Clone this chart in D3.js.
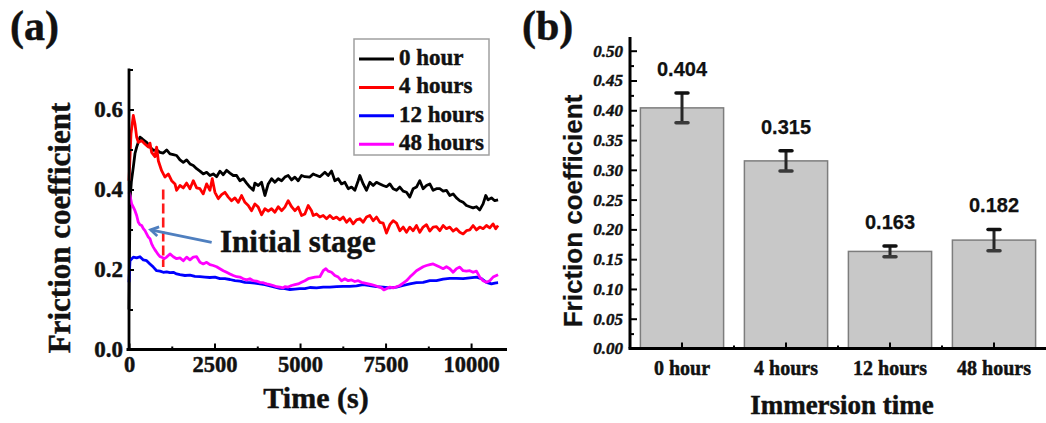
<!DOCTYPE html>
<html>
<head>
<meta charset="utf-8">
<script src="https://cdn.jsdelivr.net/npm/d3@7"></script>
<style>
  html, body { margin: 0; padding: 0; background: #fff; }
  svg { display: block; }
  .serif { font-family: "Liberation Serif", "Times New Roman", serif; font-weight: bold; fill: #111; stroke: #111; stroke-width: 0.45px; }
  .sans { font-family: "Liberation Sans", Arial, sans-serif; font-weight: bold; fill: #111; stroke: #111; stroke-width: 0.25px; }
</style>
</head>
<body>
<svg id="fig" width="1046" height="423"></svg>
<script>
// ---------- (a) friction coefficient vs time, [time (s), coefficient] ----------
const hour0 = [
  [0,0.10],[15,0.25],[35,0.38],[70,0.42],[126,0.456],[175,0.49],[224,0.506],[321,0.531],[370,0.528],
  [419,0.524],[516,0.518],[613,0.506],[711,0.498],[808,0.499],[906,0.493],[1003,0.491],[1100,0.499],
  [1198,0.489],[1295,0.487],[1392,0.485],[1490,0.474],[1587,0.468],[1685,0.474],[1782,0.464],
  [1879,0.460],[1977,0.452],[2074,0.446],[2171,0.439],[2269,0.443],[2366,0.435],[2463,0.439],
  [2561,0.432],[2658,0.446],[2756,0.437],[2853,0.448],[2950,0.441],[3048,0.435],[3145,0.435],
  [3242,0.422],[3340,0.427],[3437,0.416],[3534,0.406],[3632,0.398],[3680,0.416],[3778,0.410],
  [3875,0.418],[3973,0.385],[4070,0.414],[4168,0.427],[4265,0.418],[4362,0.427],[4460,0.422],
  [4557,0.431],[4654,0.435],[4752,0.424],[4849,0.431],[4946,0.422],[5044,0.435],[5141,0.432],
  [5287,0.431],[5384,0.439],[5434,0.437],[5580,0.432],[5726,0.443],[5823,0.435],[5921,0.446],
  [6018,0.422],[6116,0.427],[6213,0.414],[6310,0.418],[6408,0.402],[6505,0.406],[6602,0.398],
  [6700,0.422],[6749,0.435],[6846,0.414],[6943,0.398],[7041,0.418],[7138,0.410],[7235,0.418],
  [7333,0.414],[7430,0.410],[7527,0.407],[7625,0.414],[7722,0.402],[7820,0.398],[7917,0.406],
  [8014,0.396],[8112,0.393],[8209,0.381],[8306,0.402],[8404,0.406],[8501,0.422],[8598,0.402],
  [8696,0.410],[8793,0.414],[8891,0.398],[8988,0.402],[9085,0.402],[9183,0.396],[9280,0.398],
  [9377,0.385],[9475,0.389],[9572,0.379],[9670,0.372],[9767,0.368],[9864,0.360],[9962,0.357],
  [10059,0.354],[10157,0.357],[10254,0.349],[10351,0.364],[10429,0.385],[10497,0.374],
  [10595,0.379],[10692,0.372],[10789,0.374]
];
const hour4 = [
  [0,0.422],[58,0.539],[126,0.585],[175,0.564],[224,0.531],[273,0.518],[370,0.522],[467,0.514],
  [565,0.506],[613,0.516],[662,0.493],[759,0.482],[808,0.506],[857,0.472],[954,0.447],[1052,0.431],
  [1149,0.439],[1246,0.422],[1344,0.414],[1392,0.398],[1490,0.410],[1587,0.404],[1685,0.416],
  [1782,0.402],[1879,0.422],[1977,0.404],[2074,0.402],[2171,0.389],[2269,0.414],[2366,0.398],
  [2434,0.427],[2512,0.393],[2610,0.377],[2707,0.387],[2804,0.393],[2902,0.381],[2999,0.372],
  [3096,0.379],[3194,0.368],[3291,0.385],[3389,0.368],[3486,0.360],[3583,0.347],[3681,0.364],
  [3778,0.356],[3875,0.337],[3973,0.352],[4070,0.346],[4168,0.352],[4265,0.343],[4362,0.357],
  [4460,0.347],[4557,0.356],[4654,0.372],[4752,0.357],[4849,0.347],[4946,0.356],[5044,0.335],
  [5141,0.339],[5239,0.360],[5336,0.347],[5385,0.335],[5483,0.339],[5580,0.331],[5677,0.335],
  [5775,0.327],[5872,0.335],[5970,0.327],[6067,0.331],[6164,0.324],[6262,0.331],[6359,0.318],
  [6456,0.327],[6554,0.314],[6651,0.324],[6749,0.327],[6846,0.318],[6943,0.331],[7041,0.335],
  [7138,0.322],[7235,0.331],[7333,0.318],[7430,0.316],[7527,0.291],[7625,0.312],[7722,0.322],
  [7820,0.316],[7917,0.297],[8014,0.306],[8112,0.293],[8209,0.306],[8306,0.297],[8404,0.310],
  [8501,0.293],[8598,0.306],[8696,0.312],[8793,0.296],[8891,0.306],[8988,0.307],[9085,0.297],
  [9183,0.310],[9280,0.302],[9377,0.306],[9475,0.296],[9572,0.302],[9670,0.293],[9767,0.289],
  [9864,0.297],[9962,0.299],[10059,0.310],[10157,0.299],[10254,0.306],[10351,0.302],[10449,0.310],
  [10546,0.304],[10643,0.314],[10721,0.302],[10789,0.310]
];
const hour12 = [
  [0,0.168],[29,0.222],[126,0.231],[224,0.229],[321,0.232],[419,0.224],[516,0.222],[613,0.214],
  [711,0.206],[808,0.197],[906,0.196],[1003,0.193],[1100,0.194],[1198,0.192],[1295,0.193],
  [1392,0.189],[1490,0.187],[1636,0.185],[1782,0.186],[1928,0.183],[2074,0.182],[2220,0.181],
  [2366,0.180],[2512,0.181],[2658,0.177],[2804,0.177],[2950,0.175],[3096,0.172],[3242,0.171],
  [3389,0.168],[3534,0.167],[3680,0.166],[3827,0.164],[3973,0.162],[4119,0.159],[4265,0.156],
  [4411,0.153],[4557,0.152],[4703,0.150],[4849,0.151],[4995,0.152],[5141,0.152],[5288,0.155],
  [5483,0.154],[5677,0.156],[5872,0.156],[6067,0.157],[6262,0.158],[6456,0.158],[6651,0.159],
  [6846,0.162],[7041,0.160],[7235,0.157],[7430,0.156],[7625,0.154],[7820,0.156],[8014,0.160],
  [8209,0.164],[8404,0.167],[8598,0.168],[8793,0.172],[8988,0.172],[9183,0.176],[9377,0.178],
  [9572,0.178],[9767,0.177],[9962,0.179],[10157,0.181],[10303,0.177],[10449,0.168],[10595,0.164],
  [10692,0.166],[10789,0.167]
];
const hour48 = [
  [0,0.393],[29,0.385],[78,0.364],[126,0.356],[175,0.347],[224,0.335],[273,0.318],[321,0.312],
  [370,0.310],[419,0.302],[467,0.297],[516,0.289],[565,0.281],[613,0.277],[662,0.264],[711,0.256],
  [759,0.249],[808,0.243],[857,0.237],[906,0.232],[954,0.231],[1032,0.227],[1100,0.231],[1198,0.239],
  [1295,0.232],[1392,0.227],[1490,0.229],[1587,0.222],[1685,0.231],[1782,0.224],[1879,0.231],
  [1977,0.232],[2074,0.218],[2171,0.214],[2269,0.218],[2366,0.212],[2463,0.210],[2561,0.207],
  [2658,0.202],[2756,0.197],[2853,0.193],[2950,0.189],[3048,0.185],[3145,0.182],[3242,0.181],
  [3340,0.177],[3437,0.174],[3534,0.177],[3632,0.172],[3729,0.171],[3827,0.168],[3924,0.167],
  [4021,0.164],[4119,0.162],[4216,0.160],[4314,0.157],[4411,0.156],[4508,0.154],[4557,0.157],
  [4654,0.156],[4752,0.160],[4849,0.162],[4946,0.164],[5044,0.168],[5141,0.172],[5239,0.177],
  [5336,0.179],[5434,0.181],[5580,0.182],[5677,0.197],[5755,0.202],[5823,0.196],[5921,0.193],
  [6018,0.185],[6116,0.181],[6213,0.172],[6310,0.177],[6408,0.172],[6505,0.174],[6602,0.170],
  [6700,0.172],[6797,0.168],[6895,0.166],[6992,0.164],[7089,0.162],[7187,0.160],[7284,0.157],
  [7381,0.154],[7450,0.149],[7527,0.152],[7625,0.156],[7722,0.154],[7820,0.157],[7917,0.160],
  [8014,0.166],[8112,0.172],[8209,0.181],[8306,0.189],[8404,0.197],[8501,0.202],[8598,0.207],
  [8696,0.210],[8793,0.212],[8891,0.214],[8988,0.210],[9085,0.206],[9183,0.202],[9280,0.207],
  [9377,0.202],[9475,0.193],[9572,0.202],[9670,0.206],[9767,0.197],[9864,0.196],[9962,0.197],
  [10059,0.193],[10157,0.196],[10254,0.181],[10351,0.172],[10449,0.168],[10546,0.172],
  [10643,0.181],[10789,0.187]
];
const seriesNames = ["0 hour", "4 hours", "12 hours", "48 hours"];
const seriesColors = ["#000000", "#ff0000", "#0000ff", "#ff00ff"];
const timeTicks = [0, 2500, 5000, 7500, 10000];
const timeMinorTicks = [1250, 3750, 6250, 8750];
const coefTicks = [0, 0.2, 0.4, 0.6];
const coefMinorTicks = [0.1, 0.3, 0.5, 0.7];

// ---------- (b) mean friction coefficient per immersion time ----------
const immersionTimes = ["0 hour", "4 hours", "12 hours", "48 hours"];
const meanCoef = [0.404, 0.315, 0.163, 0.182];
const coefError = [0.025, 0.017, 0.009, 0.018];
const barTicks = d3.range(0, 0.501, 0.05);
const barMinorTicks = d3.range(0.025, 0.52, 0.05);

const svg = d3.select("#fig");
svg.append("rect").attr("width", 1046).attr("height", 423).attr("fill", "#fff");

// ================= panel (a) =================
const xA = d3.scaleLinear().domain([0, 11050]).range([129, 507]);
const yA = d3.scaleLinear().domain([0, 0.7]).range([349.5, 69.5]);
const gA = svg.append("g");

const line = d3.line().x(d => xA(d[0])).y(d => yA(d[1]));
[hour0, hour4, hour12, hour48].forEach((s, i) => {
  gA.append("path").datum(s).attr("d", line)
    .attr("fill", "none").attr("stroke", seriesColors[i])
    .attr("stroke-width", 2.8).attr("stroke-linejoin", "round");
});

// axes
function styleAxis(g, size) {
  g.select(".domain").remove();
  g.attr("font-family", null);
  g.selectAll(".tick line").attr("stroke", "#000").attr("stroke-width", 2);
  g.selectAll(".tick text").attr("class", "serif").style("font-size", size + "px").attr("fill", "#111");
}
gA.append("g").attr("transform", `translate(0,${yA(0)})`)
  .call(d3.axisBottom(xA).tickValues(timeTicks).tickFormat(d3.format("d"))
    .tickSizeInner(-6).tickSizeOuter(0).tickPadding(7))
  .call(g => styleAxis(g, 22.5));
gA.append("g").attr("transform", `translate(0,${yA(0)})`)
  .call(d3.axisBottom(xA).tickValues(timeMinorTicks).tickFormat("").tickSizeInner(-3).tickSizeOuter(0))
  .call(g => styleAxis(g, 22));
gA.append("g").attr("transform", `translate(${xA(0)},0)`)
  .call(d3.axisLeft(yA).tickValues(coefTicks).tickFormat(d3.format(".1f"))
    .tickSizeInner(-5).tickSizeOuter(0).tickPadding(6))
  .call(g => styleAxis(g, 23));
gA.append("g").attr("transform", `translate(${xA(0)},0)`)
  .call(d3.axisLeft(yA).tickValues(coefMinorTicks).tickFormat("").tickSizeInner(-4).tickSizeOuter(0))
  .call(g => styleAxis(g, 22));
gA.append("line").attr("x1", xA(0) - 2.5).attr("x2", xA.range()[1]).attr("y1", yA(0)).attr("y2", yA(0))
  .attr("stroke", "#000").attr("stroke-width", 2.8);
gA.append("line").attr("x1", xA(0)).attr("x2", xA(0)).attr("y1", yA(0)).attr("y2", yA.range()[1] - 1)
  .attr("stroke", "#000").attr("stroke-width", 2.8);

// initial-stage marker and arrow
gA.append("line").attr("x1", xA(1000)).attr("x2", xA(1000)).attr("y1", yA(0.40)).attr("y2", yA(0.206))
  .attr("stroke", "#ff1a1a").attr("stroke-width", 2.6).attr("stroke-dasharray", "10,4");
const arrFrom = [xA(2416), yA(0.268)], arrTo = [xA(634), yA(0.299)];
gA.append("line").attr("x1", arrFrom[0]).attr("y1", arrFrom[1]).attr("x2", arrTo[0]).attr("y2", arrTo[1])
  .attr("stroke", "#4f7fbf").attr("stroke-width", 2.8);
{
  const ang = Math.atan2(arrFrom[1] - arrTo[1], arrFrom[0] - arrTo[0]);
  const L = 9, spread = 0.55;
  const p1 = [arrTo[0] + L * Math.cos(ang + spread), arrTo[1] + L * Math.sin(ang + spread)];
  const p2 = [arrTo[0] + L * Math.cos(ang - spread), arrTo[1] + L * Math.sin(ang - spread)];
  gA.append("path").attr("d", `M${p1[0]},${p1[1]}L${arrTo[0]},${arrTo[1]}L${p2[0]},${p2[1]}`)
    .attr("fill", "none").attr("stroke", "#4f7fbf").attr("stroke-width", 2.8).attr("stroke-linejoin", "miter");
}
gA.append("text").attr("class", "serif").attr("x", xA(2660)).attr("y", yA(0.243))
  .style("font-size", "31px").text("Initial stage");

// legend
const leg = gA.append("g");
leg.append("rect").attr("x", 354).attr("y", 39).attr("width", 135).attr("height", 116)
  .attr("fill", "#fff").attr("stroke", "#a0a0a0").attr("stroke-width", 1.5);
seriesNames.forEach((n, i) => {
  const cy = 59 + i * 28.4;
  leg.append("line").attr("x1", 359).attr("x2", 394).attr("y1", cy).attr("y2", cy)
    .attr("stroke", seriesColors[i]).attr("stroke-width", 3);
  leg.append("text").attr("class", "serif").attr("x", 399).attr("y", cy + 6)
    .style("font-size", "23px").text(n);
});

// titles
svg.append("text").attr("class", "serif").attr("transform", "translate(70,228) rotate(-90)")
  .attr("text-anchor", "middle").style("font-size", "31px").text("Friction coefficient");
svg.append("text").attr("class", "serif").attr("x", 316).attr("y", 408)
  .attr("text-anchor", "middle").style("font-size", "30px").text("Time (s)");
svg.append("text").attr("class", "serif").attr("x", 10).attr("y", 40)
  .style("font-size", "42px").text("(a)");

// ================= panel (b) =================
const xB = d3.scaleBand().domain(immersionTimes).range([630, 1046]).paddingInner(0.2).paddingOuter(0.1);
const yB = d3.scaleLinear().domain([0, 0.523]).range([348.5, 37]);
const gB = svg.append("g");

gB.selectAll("rect.bar").data(immersionTimes).join("rect").attr("class", "bar")
  .attr("x", d => xB(d)).attr("width", xB.bandwidth())
  .attr("y", (d, i) => yB(meanCoef[i])).attr("height", (d, i) => yB(0) - yB(meanCoef[i]))
  .attr("fill", "#c8c8c8").attr("stroke", "#7d7d7d").attr("stroke-width", 1.5);

// error bars
immersionTimes.forEach((d, i) => {
  const cx = xB(d) + xB.bandwidth() / 2;
  const hi = yB(meanCoef[i] + coefError[i]), lo = yB(meanCoef[i] - coefError[i]);
  gB.append("line").attr("x1", cx).attr("x2", cx).attr("y1", hi).attr("y2", lo)
    .attr("stroke", "#262626").attr("stroke-width", 3);
  [[hi, "#111"], [lo, "#3a3a3a"]].forEach(([yy, c]) => {
    gB.append("line").attr("x1", cx - 6).attr("x2", cx + 6).attr("y1", yy).attr("y2", yy)
      .attr("stroke", c).attr("stroke-width", 3.5).attr("stroke-linecap", "round");
  });
  gB.append("text").attr("class", "sans").attr("x", cx).attr("y", hi - 17)
    .attr("text-anchor", "middle").style("font-size", "20px").text(d3.format(".3f")(meanCoef[i]));
});

// axes
gB.append("g").attr("transform", `translate(0,${yB(0)})`)
  .call(d3.axisBottom(xB).tickSizeInner(-6).tickSizeOuter(0).tickPadding(12))
  .call(g => styleAxis(g, 20));
const between = immersionTimes.slice(1).map(d => xB(d) - xB.step() * xB.paddingInner() / 2);
gB.selectAll("line.minx").data(between).join("line").attr("class", "minx")
  .attr("x1", d => d).attr("x2", d => d).attr("y1", yB(0)).attr("y2", yB(0) - 3)
  .attr("stroke", "#000").attr("stroke-width", 2);
gB.append("g").attr("transform", `translate(630,0)`)
  .call(d3.axisLeft(yB).tickValues(barTicks).tickFormat(d3.format(".2f"))
    .tickSizeInner(-7).tickSizeOuter(0).tickPadding(7))
  .call(g => styleAxis(g, 17))
  .call(g => g.selectAll(".tick text").style("font-style", "italic"));
gB.append("g").attr("transform", `translate(630,0)`)
  .call(d3.axisLeft(yB).tickValues(barMinorTicks).tickFormat("").tickSizeInner(-4).tickSizeOuter(0))
  .call(g => styleAxis(g, 17));
gB.append("line").attr("x1", 628.5).attr("x2", 1046).attr("y1", yB(0)).attr("y2", yB(0))
  .attr("stroke", "#000").attr("stroke-width", 3);
gB.append("line").attr("x1", 630).attr("x2", 630).attr("y1", yB(0)).attr("y2", yB.range()[1])
  .attr("stroke", "#000").attr("stroke-width", 3);

svg.append("text").attr("class", "sans").attr("transform", "translate(581.5,211) rotate(-90)")
  .attr("text-anchor", "middle").style("font-size", "26px").text("Friction coefficient");
svg.append("text").attr("class", "serif").attr("x", 842).attr("y", 414)
  .attr("text-anchor", "middle").style("font-size", "27px").text("Immersion time");
svg.append("text").attr("class", "serif").attr("x", 522).attr("y", 40)
  .style("font-size", "42px").text("(b)");
</script>
</body>
</html>
